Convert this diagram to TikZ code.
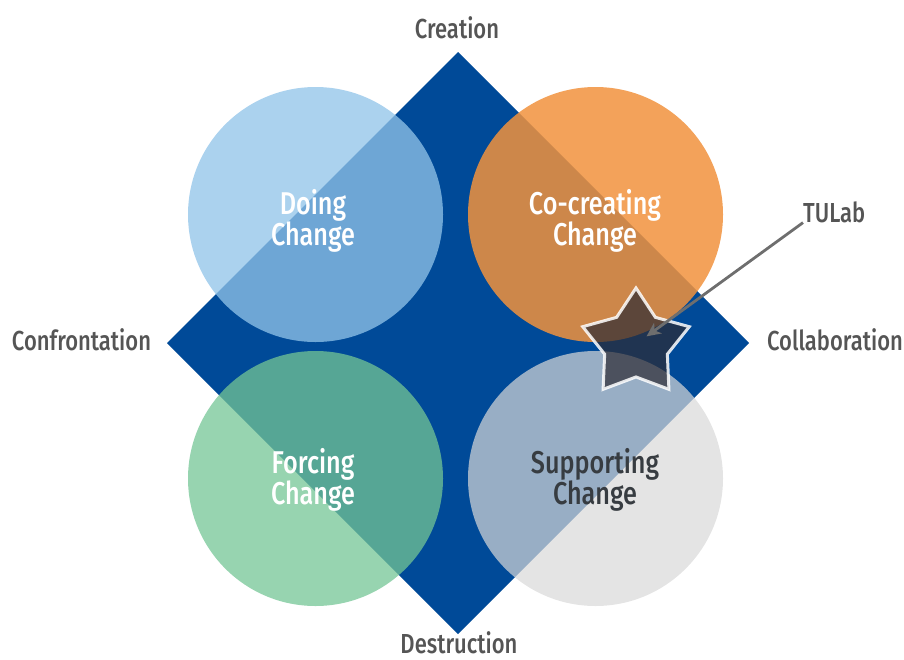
\documentclass[tikz,border=0pt]{standalone}
\usepackage{fontspec}
\setmainfont{Fira Sans Medium}[FakeStretch=0.8]
\usetikzlibrary{shapes.geometric, arrows.meta}

\definecolor{diamondblue}{RGB}{0,74,152}
\definecolor{doingblue}{RGB}{145,196,233}
\definecolor{cocreateorange}{RGB}{241,146,61}
\definecolor{forcinggreen}{RGB}{116,197,149}
\definecolor{supportgray}{RGB}{217,217,217}
\definecolor{labelgray}{RGB}{85,85,85}
\definecolor{darktext}{RGB}{55,60,65}
\definecolor{stardark}{RGB}{46,44,52}
\definecolor{pointergray}{RGB}{110,110,110}

\tikzset{
  axislabel/.style={text=labelgray, inner sep=0pt, font=\fontsize{27.5}{28}\selectfont},
  changelabel/.style={text=white, inner sep=0pt, align=center, font=\fontsize{31.5}{28.5}\selectfont},
}

\begin{document}
\begin{tikzpicture}[x=1pt, y=-1pt]
            \useasboundingbox (0,0) rectangle (904,659);

            % square
            \fill[diamondblue] (458,52) -- (749,343) -- (458,634) -- (167,343) -- cycle;

            % the four circles
            \fill[doingblue, fill opacity=0.76]      (315.5,214.5) circle (127.5pt);
            \fill[cocreateorange, fill opacity=0.85] (595.5,214.5) circle (127.5pt);
            \fill[forcinggreen, fill opacity=0.75]   (315.5,478.5) circle (127.5pt);
            \fill[supportgray, fill opacity=0.7]     (595.5,478.5) circle (127.5pt);

            \node[changelabel] (doing)      at (313,221) {Doing\\Change};
            \node[changelabel] (cocreating) at (595,221) {Co-creating\\Change};
            \node[changelabel] (forcing)    at (313,480) {Forcing\\Change};
            \node[changelabel, text=darktext] (supporting) at (595,480) {Supporting\\Change};

            \node[axislabel, anchor=base] (creation)      at (457,38)   {Creation};
            \node[axislabel, anchor=base] (destruction)   at (459,653)  {Destruction};
            \node[axislabel, anchor=base] (confrontation) at (81.5,350) {Confrontation};
            \node[axislabel, anchor=base] (collaboration) at (835,350)  {Collaboration};
            \node[axislabel, anchor=base west] (tulab)    at (803,222)  {TULab};

            \node[star, star points=5, star point ratio=1.7, minimum size=112pt, inner sep=0pt,
                  fill=stardark, fill opacity=0.71, draw=white, draw opacity=0.85, line width=3pt]
                  (tulabstar) at (636,344) {};

            \draw[pointergray, line width=2.8pt, -{Stealth[length=14pt, width=13pt, inset=4pt]},
                  shorten >=13pt] (tulab.south west) -- (tulabstar.center);
\end{tikzpicture}
\end{document}
